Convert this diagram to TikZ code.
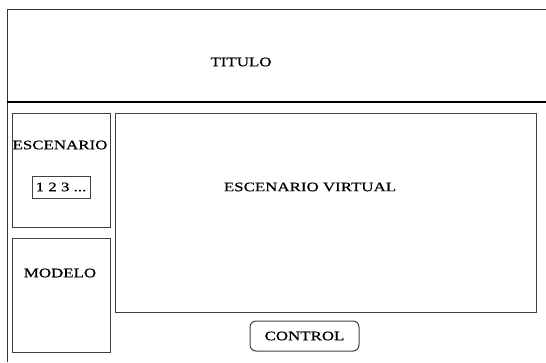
\documentclass[tikz,border=0pt]{standalone}
\usepackage{fontspec}
\setmainfont{Liberation Serif}[FakeStretch=1.3, FakeBold=0.6]
\usepackage{tikz}
\usepackage{xcolor}

\begin{document}
\begin{tikzpicture}[x=1pt, y=-1pt,
    every node/.style={font=\fontsize{13}{15}\selectfont, text=black},
    panel/.style={draw=black!75, line width=1pt, inner sep=0pt, outer sep=0pt},
    button/.style={panel, rounded corners=6pt}]
            \useasboundingbox (0,0) rectangle (546,362);
            % marco
            \draw[black!80, line width=1pt] (7,362) -- (7,9) -- (546,9);
            \draw[black, line width=2pt] (7,102) -- (546,102);
            \node (titulo) at (241,62) {TITULO};
            % columna izquierda
            \node[panel, minimum width=98, minimum height=114] (escenario) at (61,170) {};
            \node (escenariotxt) at (60,145) {ESCENARIO};
            \node[panel, minimum width=58, minimum height=22] (numeros) at (61,187) {1 2 3 ...};
            \node[panel, minimum width=98, minimum height=114] (modelo) at (61,295) {};
            \node (modelotxt) at (60,273) {MODELO};
            % zona central
            \node[panel, minimum width=421, minimum height=199] (virtual) at (325.5,212.5) {};
            \node (virtualtxt) at (310,187) {ESCENARIO VIRTUAL};
            \node[button, minimum width=109, minimum height=30] (control) at (304.5,336) {CONTROL};
        \end{tikzpicture}
\end{document}
